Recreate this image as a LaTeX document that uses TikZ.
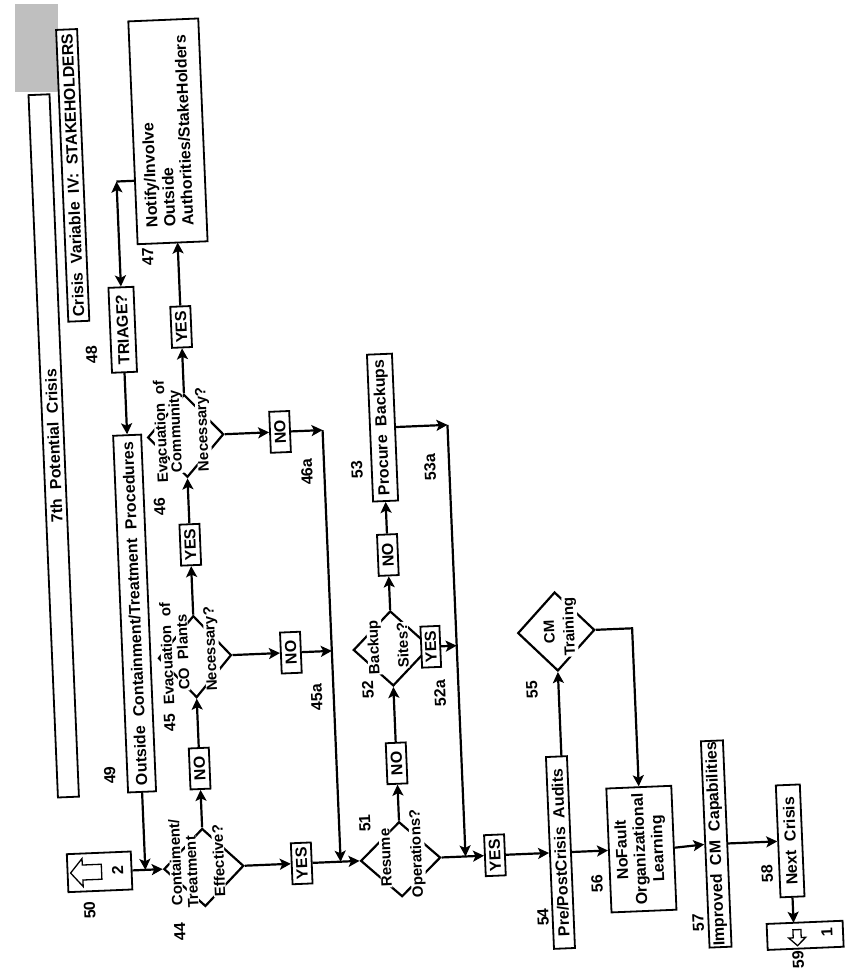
\documentclass[tikz,border=0pt]{standalone}
\usepackage{fontspec}
\setmainfont{Liberation Sans}
\usepackage{graphicx}
\usetikzlibrary{arrows.meta,shapes.geometric}

\newcommand{\vt}[1]{\rotatebox{90}{#1}}
\newcommand{\vtl}[1]{\rotatebox{90}{\begin{tabular}{@{}l@{}}#1\end{tabular}}}
\newcommand{\vtc}[1]{\rotatebox{90}{\begin{tabular}{@{}c@{}}#1\end{tabular}}}

\tikzset{
  box/.style={draw,fill=white,line width=1.8pt,inner sep=1pt},
  yn/.style={box,minimum width=20pt,minimum height=41pt},
  dia/.style={diamond,draw,line width=2.2pt,inner sep=0pt},
  dtxt/.style={fill=white,inner sep=0.5pt,font=\fontsize{15}{16}\selectfont\bfseries},
  num/.style={inner sep=0pt},
  flow/.style={line width=2.2pt,->},
}

\begin{document}
\begin{tikzpicture}[x=1pt,y=-1pt,>={Stealth[length=11pt,width=11pt,inset=2.5pt]},
    font=\fontsize{16}{18}\selectfont\bfseries]
  \useasboundingbox (0,0) rectangle (845,973);
  % scan shadow
  \fill[black!25] (15,4) rectangle (58,92);

  \begin{scope}[rotate around={2.4:(422,486)},transform shape]
    % header bars
    \node[box,minimum width=21pt,minimum height=703pt] (bar) at (55.7,430.5) {\vt{7th~~Potential~~Crisis}};
    \node[box,minimum width=21pt,minimum height=292pt] (stake) at (86,161) {\vt{Crisis~~Variable~~IV:~~STAKEHOLDERS}};

    % boxes
    \node[box,minimum width=70pt,minimum height=223pt] (notify) at (183,121) {\vtl{Notify/Involve\\Outside\\Authorities/StakeHolders}};
    \node[box,minimum width=25pt,minimum height=85pt] (triage) at (129.5,317.4) {\vt{TRIAGE?}};
    \node[box,minimum width=28pt,minimum height=357pt] (outside) at (129.5,601.4) {\vt{Outside~~Containment/Treatment~~Procedures}};
    \node[box,minimum width=64pt,minimum height=38pt] (pg2) at (83.7,858) {};
    \draw[line width=1.3pt] (54.7,858) -- (66.7,844) -- (66.7,850.5) -- (85.7,850.5) -- (85.7,865.5) -- (66.7,865.5) -- (66.7,872) -- cycle;
    \node[num] (pg2n) at (101.7,857) {\vt{2}};
    \node[box,minimum width=25pt,minimum height=147pt] (procure) at (385,426) {\vt{Procure~~Backups}};
    \node[box,minimum width=21pt,minimum height=192pt] (audits) at (545,858) {\vt{Pre/PostCrisis~~Audits}};
    \node[box,minimum width=65pt,minimum height=124pt] (nofault) at (626,858) {\vtc{NoFault\\Organizational\\Learning}};
    \node[box,minimum width=22pt,minimum height=205pt] (improved) at (701,856) {\vt{Improved~~CM~~Capabilities}};
    \node[box,minimum width=24pt,minimum height=112pt] (next) at (775,856) {\vt{Next~~Crisis}};
    \node[box,minimum width=76pt,minimum height=26pt] (pg1) at (786,951) {};
    \draw[line width=1.3pt] (778,961) -- (769.5,953) -- (774,953) -- (774,945) -- (782,945) -- (782,953) -- (786.5,953) -- cycle;
    \node[num] (pg1n) at (808,949) {\vt{1}};

    % decisions
    \node[dia,minimum width=80pt,minimum height=78pt] (d44) at (188,858) {};
    \node[dtxt] (t44a) at (160,852) {\vt{Contaiment/}};
    \node[dtxt] (t44b) at (176,862) {\vt{Treatment}};
    \node[dtxt] (t44c) at (203,852) {\vt{Effective?}};

    \node[dia,minimum width=73pt,minimum height=82pt] (d45) at (188,647) {};
    \node[dtxt] (t45a) at (160,643) {\vt{Evacuation~~of}};
    \node[dtxt] (t45b) at (176,642) {\vt{CO~~Plants}};
    \node[dtxt] (t45c) at (205,640) {\vt{Necessary?}};

    \node[dia,minimum width=76pt,minimum height=83pt] (d46) at (188,426) {};
    \node[dtxt] (t46a) at (163,421) {\vt{Evacuation~~of}};
    \node[dtxt] (t46b) at (179,421) {\vt{Community}};
    \node[dtxt] (t46c) at (206,420) {\vt{Necessary?}};

    \node[dia,minimum width=80pt,minimum height=75pt] (d51) at (385,858) {};
    \node[dtxt] (t51a) at (370,856) {\vt{Resume}};
    \node[dtxt] (t51b) at (402,853) {\vt{Operations?}};

    \node[dia,minimum width=77pt,minimum height=75pt] (d52) at (385,647) {};
    \node[dtxt] (t52a) at (368,645) {\vt{Backup}};
    \node[dtxt] (t52b) at (396,644) {\vt{Sites?}};

    \node[dia,minimum width=77pt,minimum height=79pt] (cm) at (550,637) {};
    \node[dtxt] (tcma) at (543,637) {\vt{CM}};
    \node[dtxt] (tcmb) at (564,633) {\vt{Training}};

    % yes / no
    \node[yn] (yes47) at (188,317) {\vt{YES}};
    \node[yn] (yes46) at (188,535) {\vt{YES}};
    \node[yn] (no44) at (188,759) {\vt{NO}};
    \node[yn] (no46) at (282.4,426) {\vt{NO}};
    \node[yn] (no45) at (284,647) {\vt{NO}};
    \node[yn] (yes44) at (286,858) {\vt{YES}};
    \node[yn] (no51) at (385,762) {\vt{NO}};
    \node[yn] (no52) at (385,553.5) {\vt{NO}};
    \node[yn,minimum width=19pt] (yes52) at (424,647) {\vt{YES}};
    \node[yn] (yes51) at (479.4,858) {\vt{YES}};

    % numbers
    \node[num] (n47) at (157.6,245.5) {\vt{47}};
    \node[num] (n48) at (97.5,341) {\vt{48}};
    \node[num] (n49) at (97.9,762) {\vt{49}};
    \node[num] (n50) at (72.2,896) {\vt{50}};
    \node[num] (n44) at (161.3,921) {\vt{44}};
    \node[num] (n45) at (160,712.4) {\vt{45}};
    \node[num] (n46) at (159,496) {\vt{46}};
    \node[num] (n46a) at (307.6,467) {\vt{46a}};
    \node[num] (n45a) at (308,692.6) {\vt{45a}};
    \node[num] (n51) at (350.8,820.6) {\vt{51}};
    \node[num] (n52) at (359.4,687.7) {\vt{52}};
    \node[num] (n52a) at (431.3,693.8) {\vt{52a}};
    \node[num] (n53) at (357.7,467.3) {\vt{53}};
    \node[num] (n53a) at (430.8,467.3) {\vt{53a}};
    \node[num] (n54) at (525,922) {\vt{54}};
    \node[num] (n55) at (523.4,694.6) {\vt{55}};
    \node[num] (n56) at (580.3,890.4) {\vt{56}};
    \node[num] (n57) at (679.7,933.6) {\vt{57}};
    \node[num] (n58) at (750.7,887.5) {\vt{58}};
    \node[num] (n59) at (778,975) {\vt{59}};

    % joints
    \coordinate (c47) at (129.5,169);
    \coordinate (s47) at (148,169);
    \coordinate (b47) at (188,232.5);
    \coordinate (j44) at (129.5,858);
    \coordinate (l46) at (325,426);
    \coordinate (m45) at (325,647);
    \coordinate (j51) at (325,858);
    \coordinate (l53) at (450,426);
    \coordinate (m52) at (450,647);
    \coordinate (j54) at (450,858);
    \coordinate (a55) at (550,762);
    \coordinate (k56) at (626,637);
    \coordinate (b59) at (775,938);

    % connectors
    \draw[line width=2.2pt,<->] (c47) -- (triage.north);
    \draw[line width=2.2pt] (c47) -- (s47);
    \draw[flow] (yes47.north) -- (b47);
    \draw[flow] (d46.north) -- (yes47.south);
    \draw[flow] (yes46.north) -- (d46.south);
    \draw[flow] (d45.north) -- (yes46.south);
    \draw[flow] (no44.north) -- (d45.south);
    \draw[flow] (d44.north) -- (no44.south);
    \draw[flow] (triage.south) -- (outside.north);
    \draw[flow] (outside.south) -- (j44);
    \draw[flow] (pg2.east) -- (d44.west);
    \draw[flow] (d46.east) -- (no46.west);
    \draw[flow] (no46.east) -- (l46);
    \draw[flow] (d45.east) -- (no45.west);
    \draw[flow] (no45.east) -- (m45);
    \draw[flow] (l46) -- (j51);
    \draw[flow] (d44.east) -- (yes44.west);
    \draw[flow] (yes44.east) -- (d51.west);
    \draw[flow] (d51.north) -- (no51.south);
    \draw[flow] (no51.north) -- (d52.south);
    \draw[flow] (d52.north) -- (no52.south);
    \draw[flow] (no52.north) -- (procure.south);
    \draw[flow] (procure.east) -- (l53);
    \draw[flow] (yes52.east) -- (m52);
    \draw[flow] (l53) -- (j54);
    \draw[flow] (d51.east) -- (yes51.west);
    \draw[flow] (yes51.east) -- (audits.west);
    \draw[flow] (a55) -- (cm.south);
    \draw[flow] (audits.east) -- (nofault.west);
    \draw[flow] (cm.east) -- (k56) -- (nofault.north);
    \draw[flow] (nofault.east) -- (improved.west);
    \draw[flow] (improved.east) -- (next.west);
    \draw[flow] (next.south) -- (b59);
  \end{scope}
\end{tikzpicture}
\end{document}
